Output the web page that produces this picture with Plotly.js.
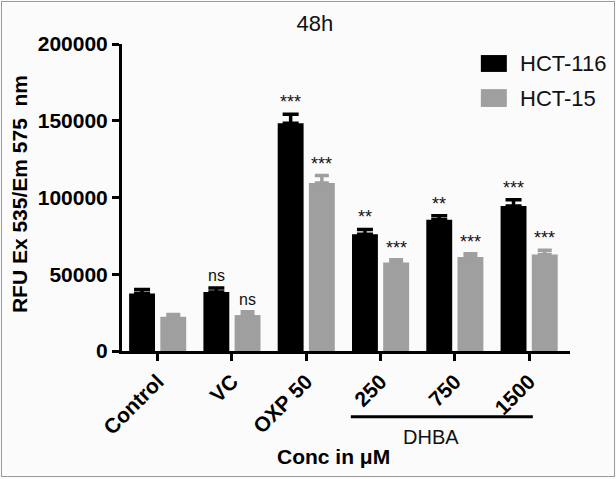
<!DOCTYPE html>
<html>
<head>
<meta charset="utf-8">
<script src="https://cdn.plot.ly/plotly-3.0.1.min.js"></script>
<style>
  body { margin: 0; background: #ffffff; }
  #chart { position: absolute; left: 0; top: 0; width: 616px; height: 479px; }
  #frame { position: absolute; left: 1px; top: 1px; width: 612px; height: 474px;
           border: 1px solid #9a9a9a; pointer-events: none; }
</style>
</head>
<body>
<div id="chart"></div>
<div id="frame"></div>
<script>
// values (RFU, mean and upper SEM)
var categories = ['Control', 'VC', 'OXP 50', '250', '750', '1500'];
var hct116 = [37500, 38500, 148300, 76000, 85500, 94400];
var hct116Err = [2600, 2600, 6000, 3200, 2600, 4100];
var hct15 = [22300, 23400, 109500, 57600, 61200, 62800];
var hct15Err = [1500, 2100, 4800, 1900, 2200, 2800];
var sig116 = ['', 'ns', '***', '**', '**', '***'];
var sig15 = ['', 'ns', '***', '***', '***', '***'];
var yTicks = [0, 50000, 100000, 150000, 200000];

var FONT = 'Liberation Sans, Arial, sans-serif';
var BLACK = '#000000';
var GREY = '#9f9f9f';
var bargap = 0.16;

var idx = categories.map(function (c, i) { return i; });
var zeros = idx.map(function () { return 0; });

var trace1 = {
  x: idx,
  y: hct116,
  type: 'bar',
  name: 'HCT-116',
  marker: {color: BLACK},
  error_y: {type: 'data', symmetric: false, array: hct116Err, arrayminus: zeros,
            color: BLACK, thickness: 3.5, width: 8}
};

var trace2 = {
  x: idx,
  y: hct15,
  type: 'bar',
  name: 'HCT-15',
  marker: {color: GREY},
  error_y: {type: 'data', symmetric: false, array: hct15Err, arrayminus: zeros,
            color: GREY, thickness: 3.5, width: 7}
};

// significance marks sit just above each error bar cap
var off = (1 - bargap) / 4;
var annotations = [];
function sigNote(x, y, txt) {
  return {x: x, y: y, xref: 'x', yref: 'y', text: txt, showarrow: false,
    xanchor: 'center', yanchor: 'bottom', yshift: txt === 'ns' ? 2 : 0,
    font: {family: FONT, size: txt === 'ns' ? 16 : 18, color: '#111'}};
}
idx.forEach(function (i) {
  if (sig116[i]) annotations.push(sigNote(i - off, hct116[i] + hct116Err[i], sig116[i]));
  if (sig15[i]) annotations.push(sigNote(i + off, hct15[i] + hct15Err[i], sig15[i]));
});

// axis titles, group label and legend text
annotations.push(
  {x: -0.23, y: 0.511, xref: 'paper', yref: 'paper', xanchor: 'center', yanchor: 'middle',
   textangle: -90, showarrow: false,
   text: 'RFU Ex 535/Em 575\u00a0\u00a0nm', font: {family: FONT, size: 21, weight: 'bold', color: '#000'}},
  {x: 0.471, y: -0.344, xref: 'paper', yref: 'paper', xanchor: 'center', yanchor: 'middle',
   showarrow: false,
   text: 'Conc in \u03bcM', font: {family: FONT, size: 21, weight: 'bold', color: '#000'}},
  {x: 3.68, y: -0.279, xref: 'x', yref: 'paper', xanchor: 'center', yanchor: 'middle',
   showarrow: false,
   text: 'DHBA', font: {family: FONT, size: 20, color: '#111'}},
  {x: 0.884, y: 0.938, xref: 'paper', yref: 'paper', xanchor: 'left', yanchor: 'middle',
   showarrow: false,
   text: 'HCT-116', font: {family: FONT, size: 22, color: '#111'}},
  {x: 0.884, y: 0.824, xref: 'paper', yref: 'paper', xanchor: 'left', yanchor: 'middle',
   showarrow: false,
   text: 'HCT-15', font: {family: FONT, size: 22, color: '#111'}}
);

var shapes = [
  {type: 'line', xref: 'x', yref: 'paper', x0: 2.6, x1: 5.05, y0: -0.214, y1: -0.214,
   line: {color: '#000', width: 3}},
  {type: 'rect', xref: 'paper', yref: 'paper', x0: 0.801, x1: 0.859, y0: 0.909, y1: 0.964,
   fillcolor: BLACK, line: {width: 0}},
  {type: 'rect', xref: 'paper', yref: 'paper', x0: 0.801, x1: 0.859, y0: 0.795, y1: 0.853,
   fillcolor: GREY, line: {width: 0}}
];

var layout = {
  width: 616,
  height: 479,
  margin: {l: 122, r: 46, t: 44, b: 128},
  paper_bgcolor: '#fbfbfb',
  plot_bgcolor: '#fbfbfb',
  showlegend: false,
  barmode: 'group',
  bargap: bargap,
  bargroupgap: 0.17,
  title: {text: '48h', x: 0.511, y: 0.952, xref: 'container', yref: 'container',
          xanchor: 'center', yanchor: 'middle', font: {family: FONT, size: 22, color: '#111'}},
  xaxis: {
    range: [-0.48, 5.55],
    tickvals: idx,
    ticktext: categories,
    tickangle: -45,
    ticks: 'outside', ticklen: 7, tickwidth: 3, tickcolor: '#000',
    showline: true, linewidth: 3, linecolor: '#000',
    showgrid: false, zeroline: false,
    tickfont: {family: FONT, size: 21, weight: 'bold', color: '#000'}
  },
  yaxis: {
    range: [0, 200000],
    tickvals: yTicks,
    tickformat: 'd',
    ticks: 'outside', ticklen: 7, tickwidth: 3, tickcolor: '#000',
    showline: true, linewidth: 3, linecolor: '#000',
    showgrid: false, zeroline: false,
    tickfont: {family: FONT, size: 21, weight: 'bold', color: '#000'}
  },
  annotations: annotations,
  shapes: shapes
};

Plotly.newPlot('chart', [trace1, trace2], layout, {displayModeBar: false});
</script>
</body>
</html>
